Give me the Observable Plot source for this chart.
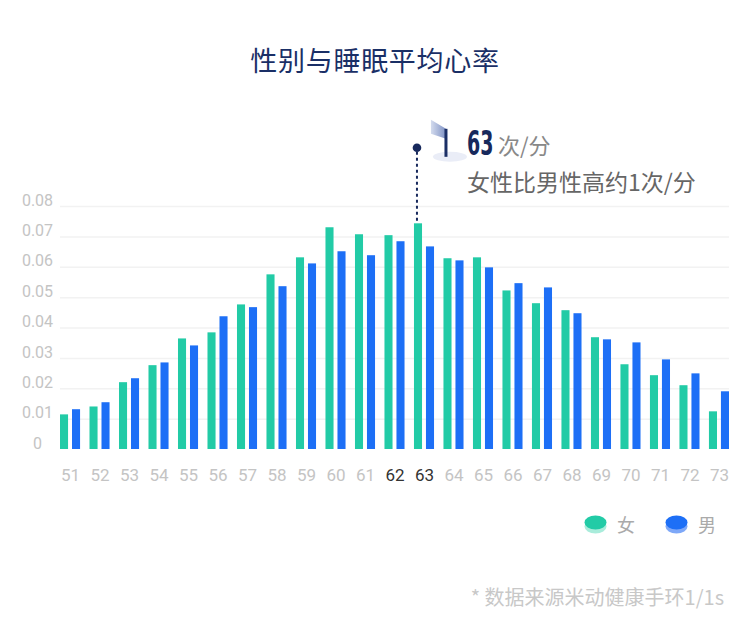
<!DOCTYPE html>
<html><head><meta charset="utf-8">
<script src="https://cdn.jsdelivr.net/npm/d3@7"></script>
<script src="https://cdn.jsdelivr.net/npm/@observablehq/plot@0.6"></script>
<style>
body{margin:0;background:#fff;width:750px;height:634px;overflow:hidden;font-family:"Noto Sans CJK SC",Roboto,sans-serif;}
#title{height:100px;box-sizing:border-box;padding-top:45px;line-height:30px;text-align:center;font-size:27px;letter-spacing:0.7px;color:#1a2f66;}
#legend{height:48px;display:flex;justify-content:flex-end;align-items:center;padding-right:34px;font-size:18px;color:#aaa;}
#legend .item{display:flex;align-items:center;margin-left:30px;}
#legend svg{margin-right:10px;}
#footer{height:98px;line-height:98px;text-align:right;padding-right:26px;font-size:20px;color:#c8c8c8;}
</style>
</head><body>
<div id="title">性别与睡眠平均心率</div>
<div id="chart"></div>
<div id="legend"></div>
<div id="footer">* 数据来源米动健康手环1/1s</div>
<script>
const heartRates = [51,52,53,54,55,56,57,58,59,60,61,62,63,64,65,66,67,68,69,70,71,72,73];
const female = [0.0114,0.0140,0.0220,0.0276,0.0364,0.0384,0.0476,0.0575,0.0631,0.0730,0.0707,0.0704,0.0743,0.0628,0.0631,0.0522,0.0480,0.0457,0.0368,0.0279,0.0243,0.0210,0.0124];
const male   = [0.0131,0.0154,0.0233,0.0285,0.0341,0.0437,0.0467,0.0536,0.0611,0.0651,0.0638,0.0684,0.0667,0.0621,0.0598,0.0546,0.0532,0.0447,0.0361,0.0351,0.0295,0.0249,0.0190];
const yTicks = [0,0.01,0.02,0.03,0.04,0.05,0.06,0.07,0.08];
const highlightTicks = [62,63];
const seriesNames = ["女","男"];
const GREEN = "#22cba6", BLUE = "#1d6ff6";
const annoRate = 63;
const annoMain = "63", annoUnit = "次/分", annoText = "女性比男性高约1次/分";

const rows = heartRates.map((hr,i)=>({hr, female:female[i], male:male[i]}));

const chart = Plot.plot({
  width:750, height:400,
  marginTop:106, marginBottom:51, marginLeft:60, marginRight:21,
  x:{type:"band", domain:heartRates, paddingInner:0.32, paddingOuter:0, align:0.5, round:false},
  y:{domain:[0,0.08]},
  style:{fontFamily:"Roboto, 'Noto Sans CJK SC', sans-serif", background:"white", fontSize:"16px"},
  marks:[
    Plot.ruleY(yTicks.filter(d=>d>0), {stroke:"#f2f2f2", strokeWidth:1.5}),
    Plot.barY(rows, {x:"hr", y:"female", fill:GREEN, insetRight:12}),
    Plot.barY(rows, {x:"hr", y:"male", fill:BLUE, insetLeft:12}),
    Plot.axisX({ticks:heartRates.filter(d=>!highlightTicks.includes(d)), tickSize:0, tickPadding:19, fontSize:17, color:"#c4c4c4", label:null}),
    Plot.axisX({ticks:highlightTicks, tickSize:0, tickPadding:19, fontSize:17, color:"#333", label:null}),
    Plot.axisY({ticks:yTicks, tickSize:0, tickPadding:23, textAnchor:"middle", dy:-6, fontSize:16, color:"#c4c4c4", label:null,
      tickFormat:d=>d===0?"0":d.toFixed(2)})
  ]
});
document.getElementById("chart").appendChild(chart);
d3.select(chart).selectAll('g[aria-label="x-axis tick label"] text').style("font-size","17px").style("font-family","Roboto, sans-serif");
d3.select(chart).selectAll('g[aria-label="y-axis tick label"] text').style("font-size","16px").style("font-family","Roboto, sans-serif");

// annotation anchored on the female bar of annoRate
const xs = chart.scale("x"), ys = chart.scale("y");
const idx = heartRates.indexOf(annoRate);
const ax = xs.apply(annoRate) + 4;
const ay = ys.apply(female[idx]);
const svg = d3.select(chart);
const defs = svg.append("defs");
const lg = defs.append("linearGradient").attr("id","flagGrad").attr("x1","0").attr("x2","1").attr("y1","0").attr("y2","0");
lg.append("stop").attr("offset","0").attr("stop-color","#d3dbee");
lg.append("stop").attr("offset","1").attr("stop-color","#7f92c4");
const dotX = ax - 1, dotY = ay - 75.5;
const g = svg.append("g").attr("transform",`translate(${dotX},${dotY})`).attr("text-anchor","start");
g.append("line").attr("x1",0).attr("x2",0).attr("y1",4).attr("y2",ay - dotY - 2)
  .attr("stroke","#17295c").attr("stroke-width",2).attr("stroke-dasharray","3,3");
g.append("circle").attr("r",4.3).attr("fill","#17295c");
g.append("ellipse").attr("cx",33).attr("cy",9).attr("rx",17).attr("ry",5).attr("fill","#eaedf7");
g.append("polygon").attr("points","14,-28 29,-19 29,-9 14,-14").attr("fill","url(#flagGrad)");
g.append("rect").attr("x",27.5).attr("y",-19).attr("width",3).attr("height",28).attr("fill","#1b2f66");
g.append("text").attr("transform","translate(50,7.3) scale(0.64,1)").attr("text-anchor","start")
  .attr("font-family","'DejaVu Sans Condensed', 'DejaVu Sans', sans-serif")
  .attr("font-weight","bold").attr("font-size",33).attr("fill","#17295c").text(annoMain);
g.append("text").attr("x",81).attr("y",6.5).attr("text-anchor","start").attr("font-family","'Noto Sans CJK SC', sans-serif")
  .attr("font-size",22).attr("fill","#888").text(annoUnit);
g.append("text").attr("x",50).attr("y",43.5).attr("text-anchor","start").attr("font-family","'Noto Sans CJK SC', sans-serif")
  .attr("font-size",23).attr("fill","#666").text(annoText);

// legend
const legend = d3.select("#legend");
[[seriesNames[0], GREEN, "#a9ecdb"],[seriesNames[1], BLUE, "#7ea8f8"]].forEach(([name, top, bottom])=>{
  const it = legend.append("div").attr("class","item");
  const s = it.append("svg").attr("width",23).attr("height",19);
  s.append("ellipse").attr("cx",11.5).attr("cy",11.5).attr("rx",11).attr("ry",7).attr("fill",bottom);
  s.append("ellipse").attr("cx",11.5).attr("cy",7.5).attr("rx",11).attr("ry",7).attr("fill",top);
  it.append("span").text(name);
});
</script>
</body></html>
